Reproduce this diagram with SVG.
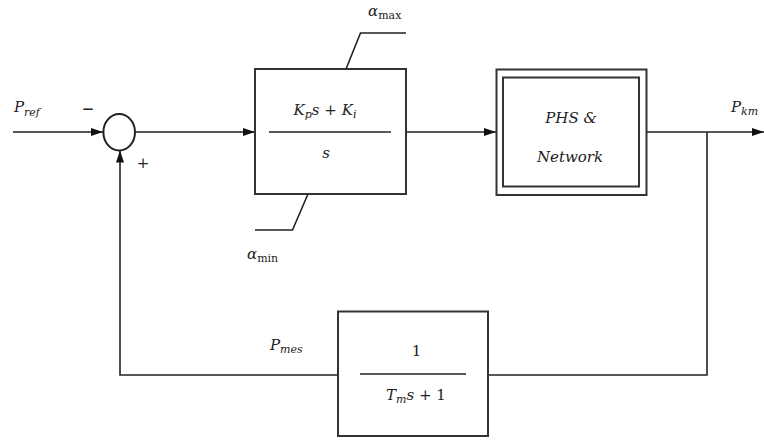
<svg xmlns="http://www.w3.org/2000/svg" width="764" height="441" viewBox="0 0 764 441">
<style>
.ln{fill:none;stroke:#222;stroke-width:1.6}
.bx{fill:#fff;stroke:#333;stroke-width:2}
.m{font-family:"DejaVu Serif","Liberation Serif",serif;font-style:italic;font-size:15px;fill:#222}
.r{font-family:"DejaVu Serif","Liberation Serif",serif;font-size:15px;fill:#222}
.s{font-size:11px}
</style>
<defs>
<marker id="ah" markerWidth="12" markerHeight="8" refX="12" refY="4" orient="auto" markerUnits="userSpaceOnUse">
<path d="M0,0 L12,4 L0,8 Z" fill="#111"/>
</marker>
</defs>
<rect width="764" height="441" fill="#fff"/>
<g id="connectors">
<line class="ln" x1="13" y1="132" x2="103" y2="132" marker-end="url(#ah)"/>
<line class="ln" x1="135" y1="132" x2="255" y2="132" marker-end="url(#ah)"/>
<line class="ln" x1="406" y1="132" x2="496" y2="132" marker-end="url(#ah)"/>
<line class="ln" x1="647" y1="132" x2="764" y2="132" marker-end="url(#ah)"/>
<polyline class="ln" points="707,132 707,375 488,375"/>
<polyline class="ln" points="338,375 120,375 120,150.5" marker-end="url(#ah)"/>
</g>
<g id="sum">
<ellipse cx="119.2" cy="132.3" rx="15.8" ry="18.2" fill="#fff" stroke="#222" stroke-width="2"/>
<text class="r" x="88" y="114" text-anchor="middle" font-weight="bold">−</text>
<text class="r" x="143" y="168" text-anchor="middle">+</text>
</g>
<g id="pref">
<text class="m" x="14" y="112">P<tspan class="s" dy="4">ref</tspan></text>
</g>
<g id="pi">
<rect class="bx" x="255" y="69" width="151" height="125"/>
<line class="ln" x1="269" y1="132" x2="391" y2="132"/>
<text class="m" x="325" y="115" text-anchor="middle">K<tspan class="s" dy="3">p</tspan><tspan dy="-3">s </tspan><tspan font-style="normal">+</tspan> K<tspan class="s" dy="3">i</tspan></text>
<text class="m" x="326" y="158" text-anchor="middle">s</text>
<polyline class="ln" points="346,69 360.5,33 406,33"/>
<polyline class="ln" points="308,194 292.5,230 255,230"/>
<text class="m" x="368" y="16">α<tspan class="s" font-style="normal" dy="3">max</tspan></text>
<text class="m" x="247" y="259">α<tspan class="s" font-style="normal" dy="3">min</tspan></text>
</g>
<g id="phs">
<rect class="bx" x="496.5" y="69.5" width="150" height="125.5"/>
<rect class="bx" x="503" y="77.5" width="136" height="109"/>
<text class="m" x="571" y="123" text-anchor="middle" font-size="14">PHS &amp;</text>
<text class="m" x="570" y="162" text-anchor="middle" font-size="14">Network</text>
</g>
<g id="pkm">
<text class="m" x="731" y="112">P<tspan class="s" dy="3">km</tspan></text>
</g>
<g id="filter">
<rect class="bx" x="338" y="311.5" width="150" height="124.5"/>
<line class="ln" x1="360" y1="374" x2="466" y2="374"/>
<text class="r" x="416.5" y="356" text-anchor="middle">1</text>
<text class="m" x="416" y="400" text-anchor="middle">T<tspan class="s" dy="3">m</tspan><tspan dy="-3">s </tspan><tspan font-style="normal">+ 1</tspan></text>
</g>
<g id="pmes">
<text class="m" x="270" y="350">P<tspan class="s" dy="3">mes</tspan></text>
</g>
</svg>
